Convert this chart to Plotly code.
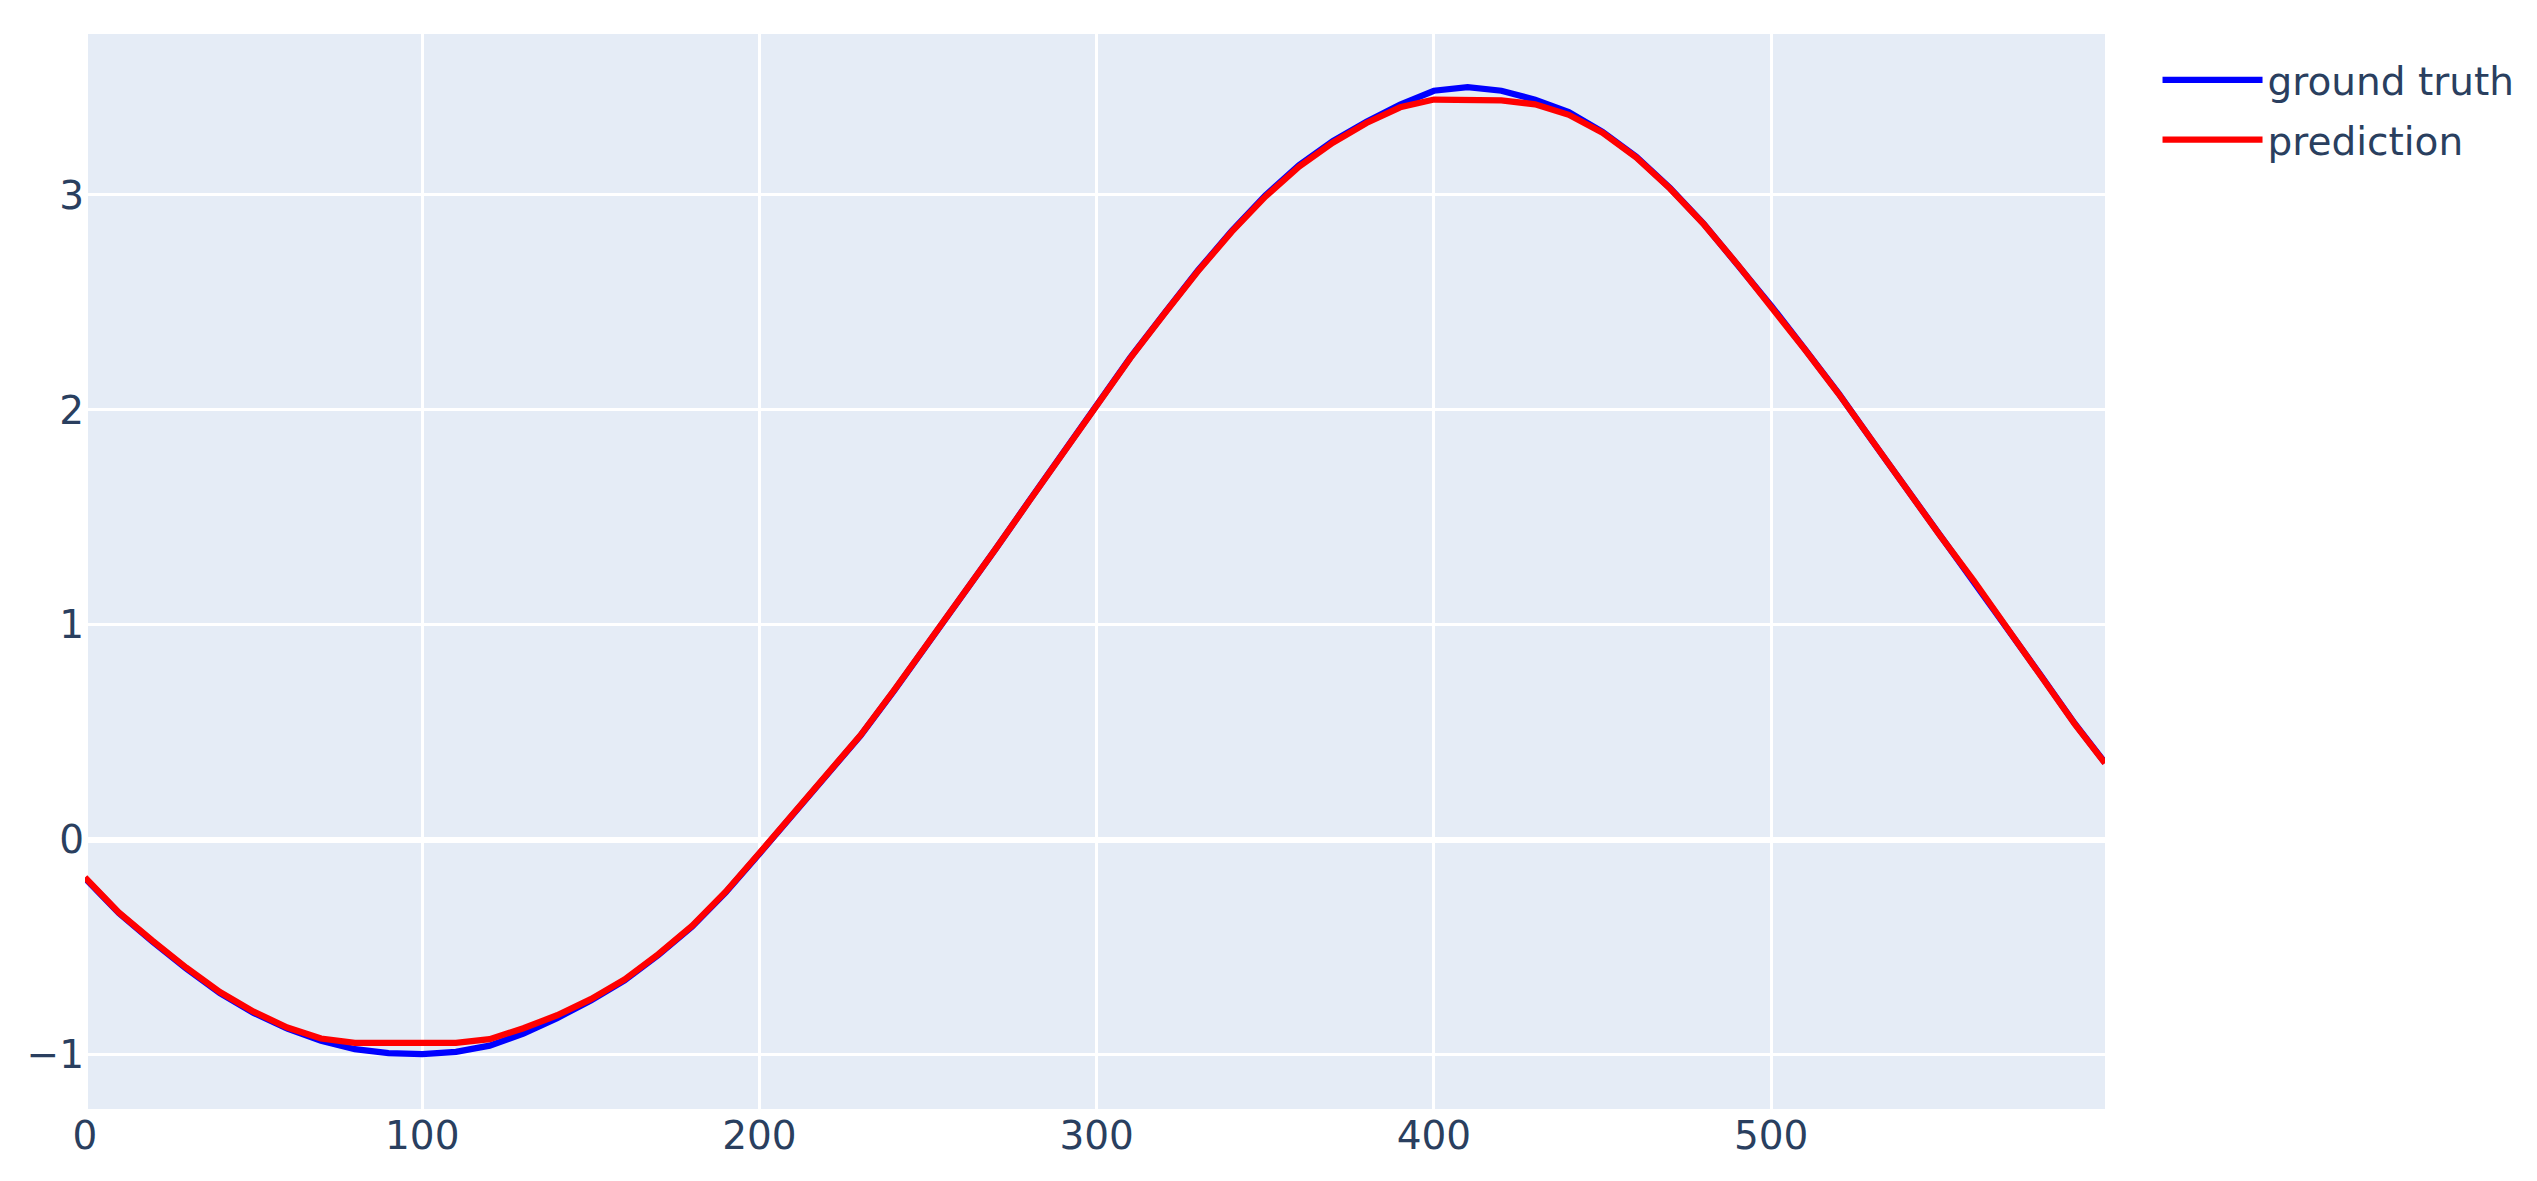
import plotly.graph_objects as go

# x positions (time steps)
x_steps = [0, 10, 20, 30, 40, 50, 60, 70, 80, 90,
           100, 110, 120, 130, 140, 150, 160, 170, 180, 190,
           200, 210, 220, 230, 240, 250, 260, 270, 280, 290,
           300, 310, 320, 330, 340, 350, 360, 370, 380, 390,
           400, 410, 420, 430, 440, 450, 460, 470, 480, 490,
           500, 510, 520, 530, 540, 550, 560, 570, 580, 590, 599]

ground_truth = [-0.179, -0.341, -0.474, -0.599, -0.714, -0.806, -0.879, -0.935, -0.975, -0.993,
                -0.998, -0.987, -0.958, -0.902, -0.830, -0.748, -0.655, -0.537, -0.405, -0.245,
                -0.065, 0.115, 0.295, 0.485, 0.695, 0.910, 1.130, 1.352, 1.577, 1.802,
                2.027, 2.244, 2.448, 2.648, 2.832, 2.998, 3.139, 3.251, 3.341, 3.420,
                3.485, 3.502, 3.485, 3.443, 3.385, 3.293, 3.178, 3.032, 2.866, 2.679,
                2.485, 2.283, 2.077, 1.855, 1.638, 1.419, 1.209, 0.989, 0.764, 0.541, 0.358]

prediction = [-0.176, -0.338, -0.470, -0.595, -0.709, -0.800, -0.874, -0.925, -0.945, -0.946,
              -0.947, -0.945, -0.928, -0.877, -0.817, -0.742, -0.650, -0.533, -0.401, -0.242,
              -0.062, 0.118, 0.298, 0.487, 0.697, 0.912, 1.131, 1.352, 1.576, 1.800,
              2.025, 2.242, 2.446, 2.645, 2.828, 2.992, 3.132, 3.243, 3.335, 3.408,
              3.444, 3.444, 3.440, 3.422, 3.373, 3.290, 3.175, 3.030, 2.864, 2.677,
              2.483, 2.281, 2.075, 1.853, 1.636, 1.417, 1.207, 0.987, 0.762, 0.539, 0.356]

series_names = ["ground truth", "prediction"]
series_colors = ["blue", "red"]

fig = go.Figure()
for name, ys, col in zip(series_names, [ground_truth, prediction], series_colors):
    fig.add_trace(go.Scatter(x=x_steps, y=ys, mode="lines", name=name,
                             legendgroup=name,
                             line=dict(color=col, width=6.3)))

fig.update_layout(
    width=2537, height=1181,
    template="plotly",
    font=dict(family="Verdana, DejaVu Sans, sans-serif", size=39, color="#2a3f5f"),
    margin=dict(l=85, r=432, t=34, b=72),
    plot_bgcolor="#E5ECF6",
    paper_bgcolor="white",
    legend=dict(itemwidth=100, tracegroupgap=6, x=1.026, y=0.987),
)
fig.update_xaxes(range=[0, 599], gridcolor="white", gridwidth=3,
                 zeroline=True, zerolinecolor="white", zerolinewidth=6,
                 tickvals=[0, 100, 200, 300, 400, 500])
fig.update_yaxes(range=[-1.253, 3.749], gridcolor="white", gridwidth=3,
                 zeroline=True, zerolinecolor="white", zerolinewidth=6,
                 tickvals=[-1, 0, 1, 2, 3])

fig.write_html("out.html", config={"displayModeBar": False},
               post_script="document.body.style.margin='0px';")
